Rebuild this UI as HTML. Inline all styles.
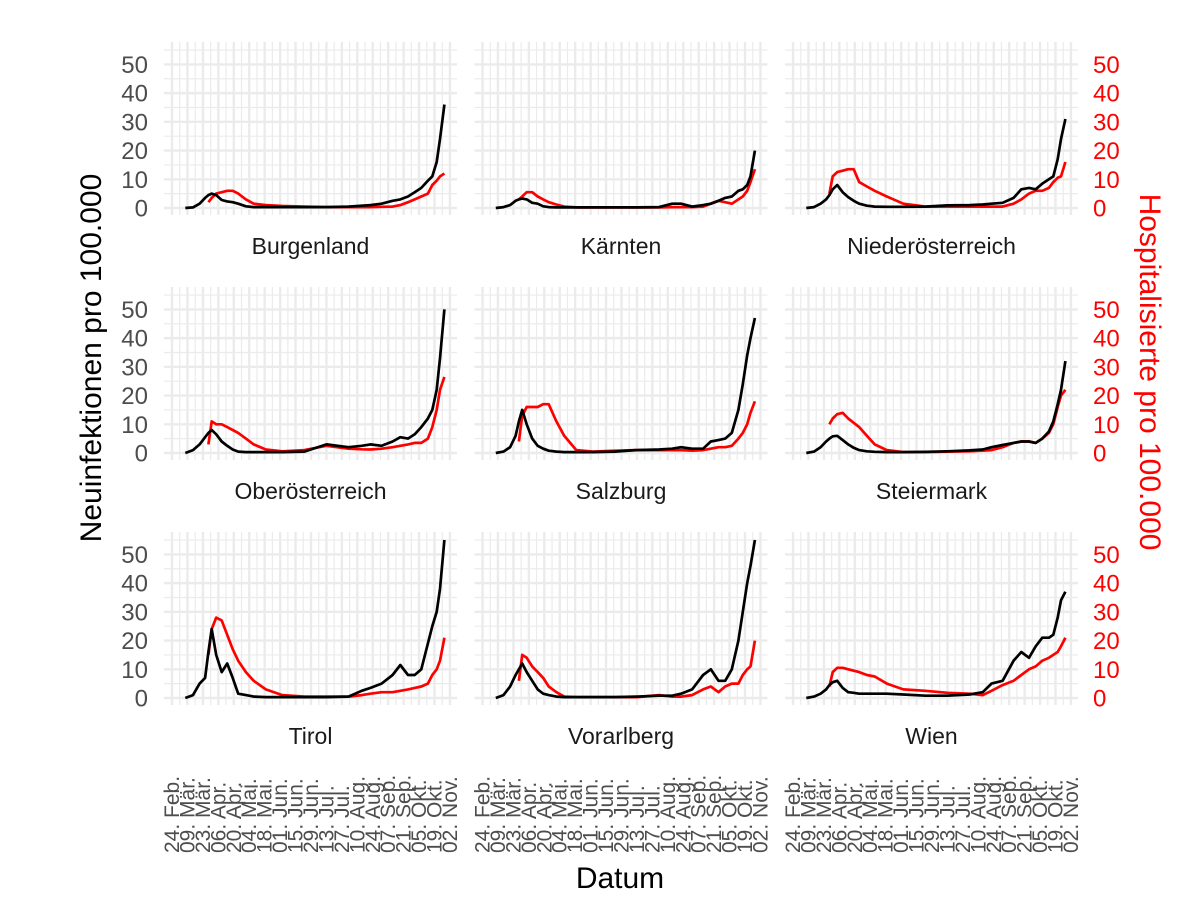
<!DOCTYPE html>
<html><head><meta charset="utf-8"><style>
html,body{margin:0;padding:0;background:#fff;}
svg{display:block;font-family:"Liberation Sans",Arial,sans-serif;}
</style></head><body>
<svg id="chart" width="1200" height="922" viewBox="0 0 1200 922" xmlns="http://www.w3.org/2000/svg">
<text x="0" y="0" transform="translate(101,358) rotate(-90)" text-anchor="middle" font-size="30" fill="#000">Neuinfektionen pro 100.000</text>
<text x="0" y="0" transform="translate(1140,372) rotate(90)" text-anchor="middle" font-size="30" fill="#ff0000">Hospitalisierte pro 100.000</text>
<text x="620" y="888" text-anchor="middle" font-size="30" fill="#000">Datum</text>
<g id="panels"></g>
</svg>
<script>
const days = [12,19,25,30,33,36,40,45,50,55,60,67,74,85,100,120,140,160,172,180,190,200,207,214,220,226,232,236,240,243,247];
const regions = ["Burgenland","Kärnten","Niederösterreich","Oberösterreich","Salzburg","Steiermark","Tirol","Vorarlberg","Wien"];
const tickLabels = ["24. Feb.","09. Mär.","23. Mär.","06. Apr.","20. Apr.","04. Mai.","18. Mai.","01. Jun.","15. Jun.","29. Jun.","13. Jul.","27. Jul.","10. Aug.","24. Aug.","07. Sep.","21. Sep.","05. Okt.","19. Okt.","02. Nov."];
const yTicks = [0,10,20,30,40,50];
const N = null;
const casesBurgenland = [0,0.2,1.5,3.5,4.5,5,4.5,2.8,2.3,2,1.5,0.6,0.3,0.3,0.3,0.3,0.3,0.5,0.8,1,1.5,2.5,3,4,5.5,7,9.5,11,16,24,36];
const hospBurgenland  = [N,N,N,N,2,3.5,5,5.5,6,6,5,3,1.5,1,0.7,0.5,0.3,0.3,0.3,0.3,0.4,0.5,1,2,3,4,5,8,9.5,11,12];
const casesKaernten = [0,0.3,1,2.5,3,3.3,3,1.8,1.5,0.6,0.3,0.2,0.2,0.2,0.2,0.2,0.2,0.3,1.5,1.5,0.5,1,1.5,2.5,3.5,4,6,6.5,8,11,20];
const hospKaernten  = [N,N,N,N,3,4,5.5,5.5,4,3,2,1.2,0.5,0.2,0.2,0.2,0.2,0.2,0.3,0.3,0.3,0.5,1.5,2.5,2,1.5,3,4,6,9,13.5];
const casesNOe = [0,0.3,1.5,3,4.5,6.5,8,5.5,3.8,2.5,1.5,0.8,0.5,0.4,0.4,0.5,0.9,1,1.2,1.5,1.8,3.5,6.5,7,6.5,8.5,10,11,17,24,31];
const hospNOe  = [N,N,N,N,5,11,12.5,13,13.5,13.5,9,7.5,6,4,1.5,0.5,0.5,0.5,0.5,0.5,0.5,1.5,3,5,6,6,7,9,10.5,11,16];
const casesOOe = [0,1,3,5.5,7,8,6.5,4,2.5,1.2,0.5,0.3,0.3,0.3,0.3,0.5,3,2,2.5,3,2.5,4,5.5,5,6.5,9,12,15,22,33,50];
const hospOOe  = [N,N,N,N,3,11,10,10,9,8,7,5,3,1.2,0.6,1,2.5,1.5,1.3,1.2,1.5,2,2.5,3,3.5,3.5,5,9,15,22,26.5];
const casesSalzburg = [0,0.5,2,6,11,15,10,5,2.5,1.5,0.8,0.5,0.3,0.3,0.3,0.5,1,1.2,1.5,2,1.5,1.5,4,4.5,5,7,15,24,34,40,47];
const hospSalzburg  = [N,N,N,N,4,13,16,16,16,17,17,11,6,1,0.5,0.8,1,1,1,1,0.8,1,1.5,2,2,2.5,5,7,10,14,18];
const casesSteiermark = [0,0.5,2,4,5,5.8,6,4.5,3,1.8,1,0.6,0.4,0.3,0.3,0.4,0.6,0.9,1.2,2,2.8,3.5,4,4,3.5,5,7.5,11,17,22,32];
const hospSteiermark  = [N,N,N,N,10,12,13.5,14,12,10.5,9,6,3,1,0.3,0.3,0.5,0.6,0.8,1,2,3.5,4,4,3.5,5,7,10,16,20,22];
const casesTirol = [0,1,5,7,16,24,15,9,12,7,1.5,1,0.5,0.3,0.3,0.3,0.3,0.5,2.5,3.5,5,8,11.5,8,8,10,19,25,30,38,55];
const hospTirol  = [N,N,N,N,15,24,28,27,22,17,13,9,6,3,1,0.5,0.5,0.5,1,1.5,2,2,2.5,3,3.5,4,5,8,10,13,21];
const casesVorarlberg = [0,1,4,8,10,12,9,6,3,1.5,1,0.5,0.3,0.3,0.3,0.3,0.5,0.8,0.8,1.5,3,8,10,6,6,10,20,30,40,46,55];
const hospVorarlberg  = [N,N,N,N,6,15,14,11,9,7,4,2,0.5,0.3,0.3,0.3,0.3,1,0.5,0.5,1,3,4,2,4,5,5,8,10,11,20];
const casesWien = [0,0.5,1.5,3,4.5,5.5,6,3.5,2,1.8,1.5,1.5,1.5,1.5,1.2,0.8,0.8,1.2,2,5,6,13,16,14,18,21,21,22,28,34,37];
const hospWien  = [N,N,N,N,4,9,10.5,10.5,10,9.5,9,8,7.5,5,3,2.5,1.8,1.5,1,2.5,4.5,6,8,10,11,13,14,15,16,18,21];
const casesSeries = [casesBurgenland,casesKaernten,casesNOe,casesOOe,casesSalzburg,casesSteiermark,casesTirol,casesVorarlberg,casesWien];
const hospSeries = [hospBurgenland,hospKaernten,hospNOe,hospOOe,hospSalzburg,hospSteiermark,hospTirol,hospVorarlberg,hospWien];

const NS = "http://www.w3.org/2000/svg";
const root = document.getElementById("panels");
const colX = [164, 474.5, 785];
const rowTop = [42, 287, 532];
const PW = 293, PH = 173;
const D0 = -7.3, D1 = 258.4, V0 = -2.44, V1 = 57.8;
function mk(tag, attrs, parent){ const e=document.createElementNS(NS,tag); for(const k in attrs) e.setAttribute(k,attrs[k]); parent.appendChild(e); return e; }
function xScale(c, d){ return colX[c] + (d - D0)/(D1 - D0)*PW; }
function yScale(r, v){ return rowTop[r] + PH - (v - V0)/(V1 - V0)*PH; }

regions.forEach((name, i) => {
  const c = i % 3, r = Math.floor(i / 3);
  const g = mk("g", {}, root);
  
  
  for (let v = 5; v <= 55; v += 10) {
    const ln = mk("line", {x1:colX[c], x2:colX[c]+PW, y1:yScale(r,v), y2:yScale(r,v), stroke:"#ebebeb", "stroke-width":1.2}, g);
    
    
  }
  for (let k = 0; k <= 18; k++) {
    const d = 14*k + 7;
    if (d < D1) {
      const ln = mk("line", {x1:xScale(c,d), x2:xScale(c,d), y1:rowTop[r], y2:rowTop[r]+PH, stroke:"#ebebeb", "stroke-width":1.2}, g);
      
      
    }
  }
  yTicks.forEach(v => {
    const ln = mk("line", {x1:colX[c], x2:colX[c]+PW, y1:yScale(r,v), y2:yScale(r,v), stroke:"#ebebeb", "stroke-width":2.4}, g);
    
    
  });
  tickLabels.forEach((t, k) => {
    const ln = mk("line", {x1:xScale(c,14*k), x2:xScale(c,14*k), y1:rowTop[r], y2:rowTop[r]+PH, stroke:"#ebebeb", "stroke-width":2.4}, g);
    
    
  });
  function path(vals){
    let s = "", started = false;
    vals.forEach((v, j) => {
      if (v === null || v === undefined) { started = false; return; }
      s += (started ? "L" : "M") + xScale(c, days[j]).toFixed(1) + "," + yScale(r, v).toFixed(1);
      started = true;
    });
    return s;
  }
  const hp = mk("path", {d:path(hospSeries[i]), fill:"none", stroke:"#ff0000", "stroke-width":2.7, "stroke-linejoin":"round"}, g);
  
  
  const cp = mk("path", {d:path(casesSeries[i]), fill:"none", stroke:"#000", "stroke-width":2.7, "stroke-linejoin":"round"}, g);
  
  
  const st = mk("text", {x:colX[c]+PW/2, y:rowTop[r]+PH+39, "text-anchor":"middle", "font-size":23, fill:"#1a1a1a"}, g);
  st.textContent = name;
  
  
  if (c === 0) yTicks.forEach(v => {
    const t = mk("text", {x:148, y:yScale(r,v)+8.5, "text-anchor":"end", "font-size":24, fill:"#4d4d4d"}, g);
    t.textContent = v;
    
    
  });
  if (c === 2) yTicks.forEach(v => {
    const t = mk("text", {x:1093, y:yScale(r,v)+8.5, "text-anchor":"start", "font-size":24, fill:"#ff0000"}, g);
    t.textContent = v;
    
    
  });
  if (r === 2) tickLabels.forEach((lab, k) => {
    const x = xScale(c, 14*k) + 7;
    const t = mk("text", {x:0, y:0, transform:"translate(" + x.toFixed(1) + ",853) rotate(-90)", "text-anchor":"start", "font-size":21, fill:"#4d4d4d"}, g);
    t.textContent = lab;
    
    
  });
});
</script>
</body></html>
